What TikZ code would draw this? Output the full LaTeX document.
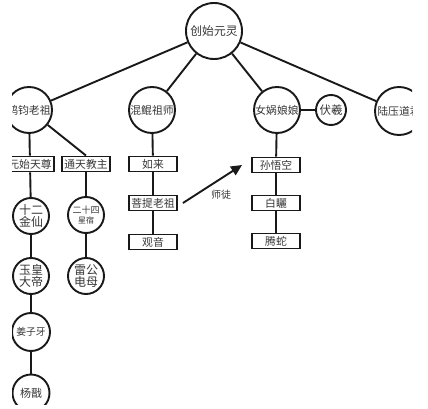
\documentclass[tikz,border=0pt]{standalone}
\usepackage{fontspec}
\newfontfamily\cjk{Noto Sans CJK SC}
\definecolor{LineInk}{RGB}{25, 25, 25}
\definecolor{TextInk}{RGB}{55, 55, 55}
\usetikzlibrary{arrows.meta}

\begin{document}
\begin{tikzpicture}[x=1pt, y=-1pt,
    every node/.style={font=\cjk\fontsize{10.8}{11.5}\selectfont, text=TextInk, align=center},
    ring/.style={draw=LineInk, circle, line width=1.9pt, fill=white, inner sep=0pt, minimum size=#1},
    ring/.default=46pt,
    tag/.style={draw=LineInk, line width=1.9pt, fill=white, inner sep=0pt, minimum width=48pt, minimum height=15pt},
    link/.style={draw=LineInk, line width=1.9pt}]
    \useasboundingbox (0,0) rectangle (428,409);
    \begin{scope}
        \clip (12,0) rectangle (412,404);
        % Root
        \node[ring=56pt, font=\cjk\fontsize{11.8}{12}\selectfont] (root) at (214,31) {创始元灵};
        % Second row
        \node[ring] (hongjun) at (29,110) {鸿钧老祖};
        \node[ring] (hunkun) at (152,110) {混鲲祖师};
        \node[ring] (nvwa) at (277,110) {女娲娘娘};
        \node[ring=30pt, font=\cjk\fontsize{11.5}{12}\selectfont] (fuxi) at (331,110) {伏羲};
        \node[ring=48pt] (luya) at (399,111) {陆压道君};
        % Boxes
        \node[tag] (yuanshi) at (30,164) {元始天尊};
        \node[tag] (tongtian) at (86,164) {通天教主};
        \node[tag] (rulai) at (153,164) {如来};
        \node[tag] (puti) at (153,203) {菩提老祖};
        \node[tag] (guanyin) at (153,242) {观音};
        \node[tag] (sun) at (276,165) {孙悟空};
        \node[tag] (baixi) at (276,203) {白矖};
        \node[tag] (tengshe) at (276,241) {腾蛇};
        % Lower circles
        \node[ring=36pt, font=\cjk\fontsize{12}{12.5}\selectfont] (jinxian) at (31,216) {十二\\金仙};
        \node[ring=36pt, font=\cjk\fontsize{9}{10}\selectfont] (xingxiu) at (86,215) {二十四\\{\fontsize{8}{9}\selectfont 星宿}};
        \node[ring=36pt, font=\cjk\fontsize{12}{12.5}\selectfont] (yuhuang) at (31,276) {玉皇\\大帝};
        \node[ring=36pt, font=\cjk\fontsize{12}{12.5}\selectfont] (leigong) at (86,276) {雷公\\电母};
        \node[ring=38pt, font=\cjk\fontsize{9.8}{11}\selectfont] (jiangziya) at (31,332) {姜子牙};
        \node[ring=37pt, font=\cjk\fontsize{11}{11}\selectfont] (yangjian) at (31,393) {杨戬};
        % Label
        \node[font=\cjk\fontsize{10}{11}\selectfont] (shitu) at (221,195) {师徒};
        % Lines
        \path[link] (root) -- (hongjun);
        \path[link] (root) -- (hunkun);
        \path[link] (root) -- (nvwa);
        \path[link] (root) -- (luya);
        \path[link] (nvwa) -- (fuxi);
        \path[link] (hongjun) -- (yuanshi);
        \path[link] (hongjun) -- (tongtian.north);
        \path[link] (yuanshi) -- (jinxian);
        \path[link] (jinxian) -- (yuhuang);
        \path[link] (yuhuang) -- (jiangziya);
        \path[link] (jiangziya) -- (yangjian);
        \path[link] (tongtian) -- (xingxiu);
        \path[link] (xingxiu) -- (leigong);
        \path[link] (hunkun) -- (rulai);
        \path[link] (rulai) -- (puti);
        \path[link] (puti) -- (guanyin);
        \path[link] (nvwa) -- (sun);
        \path[link] (sun) -- (baixi);
        \path[link] (baixi) -- (tengshe);
        \draw[LineInk, line width=1.9pt, -{Triangle[length=11pt, width=10pt]}] ([xshift=5pt]puti.east) -- ([xshift=-9pt]sun.west);
    \end{scope}
\end{tikzpicture}
\end{document}
